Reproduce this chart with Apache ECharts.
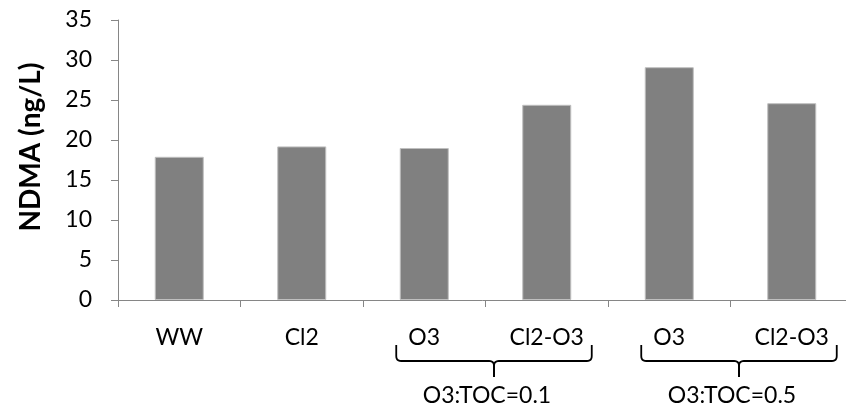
<!DOCTYPE html>
<html>
<head>
<meta charset="utf-8">
<script src="https://cdn.jsdelivr.net/npm/echarts@6/dist/echarts.min.js"></script>
<style>
html,body{margin:0;padding:0;background:#fff;}
#main{width:846px;height:413px;}
</style>
</head>
<body>
<div id="main"></div>
<script>
const categories = ['WW', 'Cl2', 'O3', 'Cl2-O3', 'O3', 'Cl2-O3'];
const ndmaValues = [17.9, 19.2, 19.0, 24.4, 29.1, 24.6];
const yTicks = [0, 5, 10, 15, 20, 25, 30, 35];
const groupLabels = ['O3:TOC=0.1', 'O3:TOC=0.5'];
const groupStart = [2, 4];
const groupEnd = [3, 5];
const yAxisTitle = 'NDMA (ng/L)';

const FONT = 'Lato';
const chart = echarts.init(document.getElementById('main'), null, {renderer: 'canvas'});
chart.setOption({
  animation: false,
  backgroundColor: '#ffffff',
  grid: {left: 118, top: 20, right: -7, bottom: 113, containLabel: false, outerBoundsMode: 'none'},
  xAxis: {
    type: 'category',
    data: categories,
    axisLine: {show: true, lineStyle: {color: '#868686', width: 1}},
    axisTick: {show: true, alignWithLabel: false, length: 7, lineStyle: {color: '#868686'}},
    axisLabel: {color: '#000', fontFamily: FONT, fontSize: 23, margin: 26, interval: 0},
    splitLine: {show: false}
  },
  yAxis: {
    type: 'value',
    min: yTicks[0],
    max: yTicks[yTicks.length - 1],
    interval: 5,
    axisLine: {show: true, lineStyle: {color: '#868686', width: 1}},
    axisTick: {show: true, length: 7, lineStyle: {color: '#868686'}},
    axisLabel: {color: '#000', fontFamily: FONT, fontSize: 23, margin: 26},
    splitLine: {show: false}
  },
  series: [{
    type: 'bar',
    data: ndmaValues,
    barWidth: 49,
    itemStyle: {color: '#808080', borderColor: '#bfbfbf', borderWidth: 1}
  }]
});

function quad(pts, p0, p1, p2) {
  for (let k = 1; k <= 6; k++) {
    const t = k / 6, u = 1 - t;
    pts.push([u * u * p0[0] + 2 * u * t * p1[0] + t * t * p2[0],
              u * u * p0[1] + 2 * u * t * p1[1] + t * t * p2[1]]);
  }
}

function drawAnnotations() {
  const g = [];
  g.push({
    type: 'text', x: 31, y: 147, rotation: Math.PI / 2,
    style: {text: yAxisTitle, fill: '#000', font: 'bold 28px ' + FONT, textAlign: 'center', textVerticalAlign: 'middle'}
  });
  const yBase = chart.convertToPixel({gridIndex: 0}, [0, 0])[1];
  for (let i = 0; i < groupLabels.length; i++) {
    const a = chart.convertToPixel({gridIndex: 0}, [groupStart[i], 0])[0];
    const b = chart.convertToPixel({gridIndex: 0}, [groupEnd[i], 0])[0];
    const L = a - 28, R = b + 45, M = (L + R) / 2;
    const t = yBase + 45, h = yBase + 61, n = yBase + 77;
    const left = [[L, t], [L, h - 5]];
    quad(left, [L, h - 5], [L, h], [L + 5, h]);
    left.push([M - 5, h]);
    quad(left, [M - 5, h], [M, h], [M, h + 5]);
    left.push([M, n]);
    const right = [[R, t], [R, h - 5]];
    quad(right, [R, h - 5], [R, h], [R - 5, h]);
    right.push([M + 5, h]);
    quad(right, [M + 5, h], [M, h], [M, h + 5]);
    right.push([M, n]);
    g.push({type: 'polyline', shape: {points: left}, style: {stroke: '#000', lineWidth: 1.8, fill: null}});
    g.push({type: 'polyline', shape: {points: right}, style: {stroke: '#000', lineWidth: 1.8, fill: null}});
    g.push({
      type: 'text', x: M - 7, y: yBase + 96,
      style: {text: groupLabels[i], fill: '#000', font: '23px ' + FONT, textAlign: 'center', textVerticalAlign: 'middle'}
    });
  }
  chart.setOption({graphic: g});
}
drawAnnotations();
</script>
</body>
</html>
